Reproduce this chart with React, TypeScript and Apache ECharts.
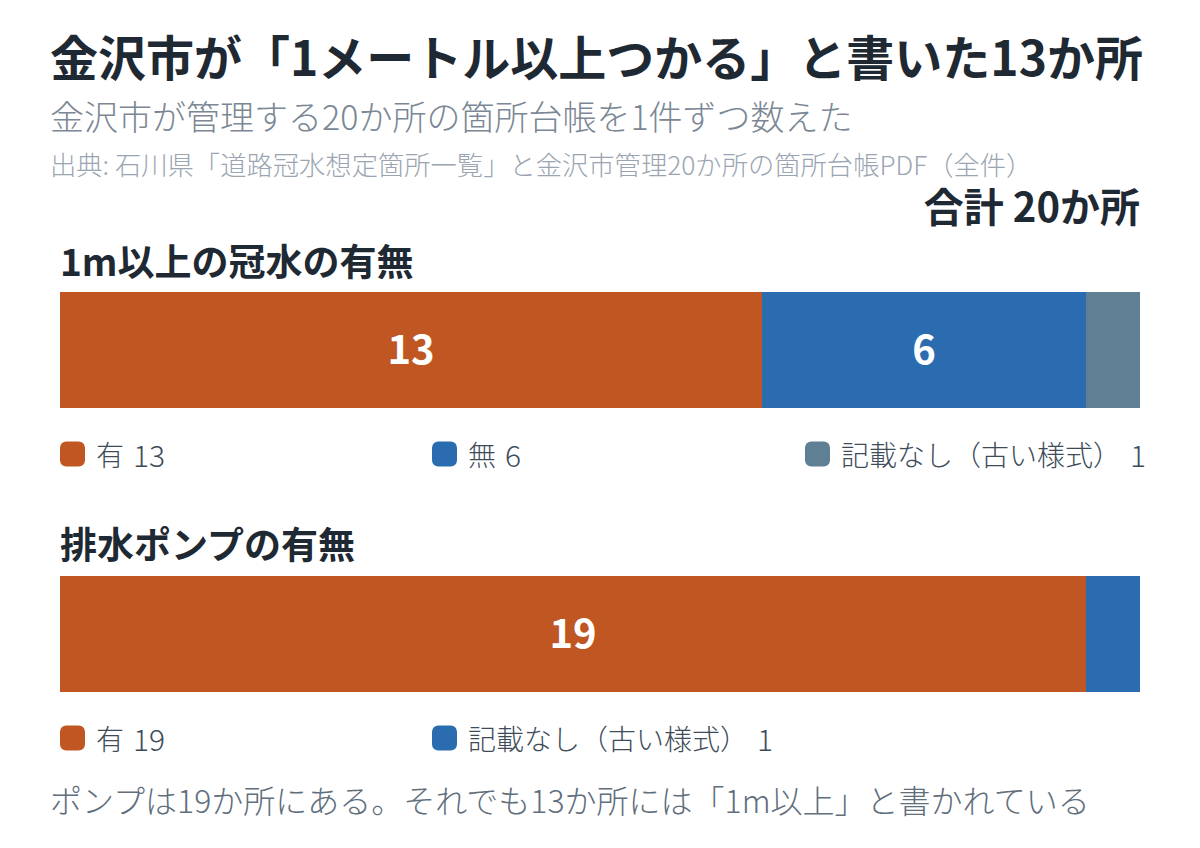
import React, { useEffect, useRef } from "react";
import * as echarts from "echarts";

const titleText = "金沢市が「1メートル以上つかる」と書いた13か所";
const subtitleText = "金沢市が管理する20か所の箇所台帳を1件ずつ数えた";
const sourceText = "出典: 石川県「道路冠水想定箇所一覧」と金沢市管理20か所の箇所台帳PDF（全件）";
const totalText = "合計 20か所";
const footerText = "ポンプは19か所にある。それでも13か所には「1m以上」と書かれている";

const floodTitle = "1m以上の冠水の有無";
const floodCats = ["有", "無", "記載なし（古い様式）"];
const floodValues = [13, 6, 1];
const floodColors = ["#C05621", "#2B6CB0", "#5F7F94"];

const pumpTitle = "排水ポンプの有無";
const pumpCats = ["有", "記載なし（古い様式）"];
const pumpValues = [19, 1];
const pumpColors = ["#C05621", "#2B6CB0"];

const TOTAL = 20;
const FONT = "'Noto Sans CJK JP', 'Noto Sans', sans-serif";

export default function App() {
  const ref = useRef<HTMLDivElement>(null);
  useEffect(() => {
    document.body.style.margin = "0";
    const chart = echarts.init(ref.current!, null, { renderer: "svg" });

    const groups = [
      { key: "冠水", cats: floodCats, values: floodValues, colors: floodColors },
      { key: "ポンプ", cats: pumpCats, values: pumpValues, colors: pumpColors },
    ];
    const gridTops = [292, 576];
    const legendTops = [439, 723];
    const legendLefts = [60, 432, 805];

    const series: any[] = [];
    const legends: any[] = [];
    const display: Record<string, string> = {};
    groups.forEach((g, gi) => {
      g.cats.forEach((c, i) => {
        const name = `${g.key}|${c}`;
        display[name] = `{n|${c}}{v|${g.values[i]}}`;
        series.push({
          type: "bar",
          name,
          stack: g.key,
          xAxisIndex: gi,
          yAxisIndex: gi,
          barWidth: "100%",
          data: [g.values[i]],
          itemStyle: { color: g.colors[i] },
          label: {
            show: g.values[i] >= 2,
            position: "inside",
            offset: [0, -3],
            color: "#ffffff",
            fontSize: 40,
            fontWeight: "bold",
            fontFamily: FONT,
          },
        });
        legends.push({
          data: [name],
          left: legendLefts[i],
          top: legendTops[gi],
          icon: "roundRect",
          itemWidth: 25,
          itemHeight: 25,
          padding: 0,
          selectedMode: false,
          formatter: (n: string) => display[n],
          textStyle: {
            fontSize: 28,
            fontWeight: 300,
            color: "#3E4C59",
            fontFamily: FONT,
            padding: [0, 0, 0, 6],
            rich: {
              n: { fontSize: 28, fontWeight: 300, color: "#3E4C59", fontFamily: FONT },
              v: { fontSize: 30, fontWeight: 300, color: "#3E4C59", fontFamily: FONT, padding: [0, 0, 0, 9] },
            },
          },
        });
      });
    });

    const t = (text: string, opts: any, style: any) => ({
      text,
      padding: 0,
      ...opts,
      textStyle: { fontFamily: FONT, ...style },
    });

    chart.setOption({
      animation: false,
      backgroundColor: "#ffffff",
      title: [
        t(titleText, { left: 50, top: 31 }, { fontSize: 48, fontWeight: "bold", color: "#1F2933" }),
        t(subtitleText, { left: 50, top: 98 }, { fontSize: 34, fontWeight: 300, color: "#7B8794" }),
        t(sourceText, { left: 50, top: 150 }, { fontSize: 26.3, fontWeight: 300, color: "#9AA5B1" }),
        t(totalText, { right: 60, top: 185 }, { fontSize: 40, fontWeight: "bold", color: "#1F2933" }),
        t(floodTitle, { left: 60, top: 241 }, { fontSize: 37, fontWeight: "bold", color: "#1F2933" }),
        t(pumpTitle, { left: 60, top: 524 }, { fontSize: 37, fontWeight: "bold", color: "#1F2933" }),
        t(footerText, { left: 50, top: 783 }, { fontSize: 32, fontWeight: 300, color: "#616E7C" }),
      ],
      legend: legends,
      grid: gridTops.map((top) => ({ left: 60, right: 60, top, height: 116 })),
      xAxis: gridTops.map((_, gi) => ({
        type: "value",
        gridIndex: gi,
        min: 0,
        max: TOTAL,
        show: false,
      })),
      yAxis: gridTops.map((_, gi) => ({
        type: "category",
        gridIndex: gi,
        data: [groups[gi].key],
        show: false,
      })),
      series,
    });
    return () => chart.dispose();
  }, []);
  return <div ref={ref} style={{ position: "fixed", left: 0, top: 0, width: 1200, height: 848 }} />;
}
